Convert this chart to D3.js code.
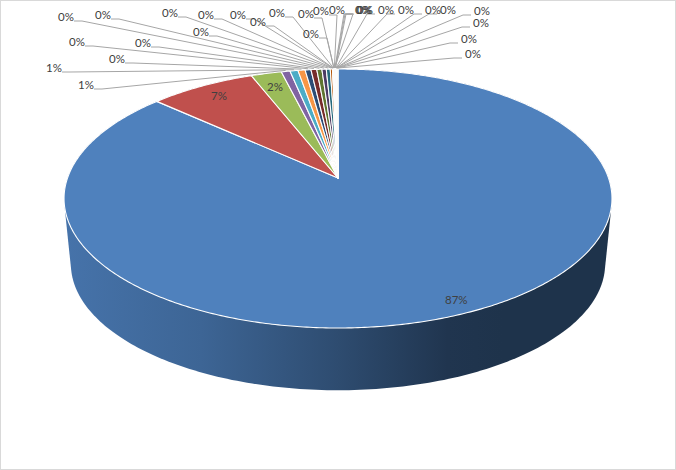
<!DOCTYPE html>
<html><head><meta charset="utf-8">
<script src="https://cdn.jsdelivr.net/npm/d3@7"></script>
<style>html,body{margin:0;padding:0;background:#fff}svg{display:block}</style>
</head><body><svg id="c" width="676" height="470"></svg>
<script>
// Data
const values = [86.75,7.3,2.1,0.6,0.55,0.49,0.4,0.4,0.35,0.3,0.27,0.15,
  0.02,0.02,0.02,0.02,0.02,0.02,0.02,0.02,0.02,0.02,0.02,0.02,0.02,0.02,0.02,0.02,0.02,0.02,0.02];
const labels = ["87%","7%","2%","1%","1%","0%","0%","0%","0%","0%","0%","0%",
  "0%","0%","0%","0%","0%","0%","0%","0%","0%","0%","0%","0%","0%","0%","0%","0%","0%","0%","0%"];
const colors = ["#4f81bd","#c0504d","#9bbb59","#8064a2","#4bacc6","#f79646","#2c4d75","#772c2a","#5f7530","#4d3b62","#276a7c","#b65708","#729aca","#d99694"];

// Layout of labels (left edge of text, text centre y). Leaders are computed.
const inside = [[445,300],[211,96],[267,87]];
const outside = [[78,85],[46,68],[109,59],[69,42],[135,43],[58,17],[95,15],[193,32],[162,13],[198,15],[230,15],[250,22],[269,13],[303,34],[298,14],[313,11],[329,10],
  [355,10],[356,10],[357,10],[378,10],[398,10],[425,10],[440,10],[474,11],[473,23],[461,39],[465,54]];

const W=676,H=470;
const svg=d3.select("#c");
svg.append("rect").attr("x",.5).attr("y",.5).attr("width",W-1).attr("height",H-1).attr("fill","#fff").attr("stroke","#d9d9d9");

// Perspective projection of a unit disc
const cx=338, cy=178, k=0.1583, A=270.5, B=126.25;
const proj=(a,s=1,dy=0)=>{ // a: clockwise from 12 o'clock
  const u=Math.sin(a), v=-Math.cos(a), w=1-k*v;
  return [cx+s*A*u/w, cy+dy+s*B*v/w];
};
const pie=d3.pie().value(d=>d).sort(null);
const arcs=pie(values);

// Side wall (convex hull of upper and lower rims)
const defs=svg.append("defs");
const grad=defs.append("linearGradient").attr("id","side").attr("gradientUnits","userSpaceOnUse").attr("x1",64).attr("x2",612).attr("y1",0).attr("y2",0);
[[0,"#4673aa"],[0.25,"#3d6595"],[0.5,"#2e4c70"],[0.7,"#20354f"],[0.8,"#1e334b"],[1,"#1e334b"]].forEach(s=>grad.append("stop").attr("offset",s[0]).attr("stop-color",s[1]));
const tau=2*Math.PI;
const rimTop=d3.range(0,360).map(d=>proj(d/360*tau));
const rimBot=d3.range(0,360).map(d=>proj(d/360*tau,0.975,66));
svg.append("path").attr("d","M"+d3.polygonHull(rimTop.concat(rimBot)).join("L")+"Z").attr("fill","url(#side)");

// Top face
const slicePath=d=>{
  const n=Math.max(2,Math.ceil((d.endAngle-d.startAngle)/0.01));
  const pts=d3.range(n+1).map(i=>proj(d.startAngle+(d.endAngle-d.startAngle)*i/n));
  return "M"+[cx,cy]+"L"+pts.join("L")+"Z";
};
svg.append("g").selectAll("path").data(arcs).join("path")
  .attr("d",slicePath)
  .attr("fill",(d,i)=>colors[i%colors.length])
  .attr("stroke","#fff").attr("stroke-width",1.1).attr("stroke-linejoin","round");

// Leaders
const font='Lato, "Open Sans", sans-serif';
const g=svg.append("g");
arcs.slice(3).forEach((d,i)=>{
  const [x,y]=outside[i];
  const right=x>345;
  const tip=proj((d.startAngle+d.endAngle)/2);
  const sy=y+4;
  const sx=right? x-3 : x+16;
  const ex=right? sx-8 : sx+8;
  g.append("path").attr("d",`M${sx},${sy}L${ex},${sy}L${tip[0]},${tip[1]-1}`)
   .attr("fill","none").attr("stroke","#a6a6a6").attr("stroke-width",1);
});
// Text
const txt=svg.append("g").attr("font-family",font).attr("font-size",11.5).attr("fill","#404040");
arcs.forEach((d,i)=>{
  const p=i<3?inside[i]:outside[i-3];
  txt.append("text").attr("x",p[0]).attr("y",p[1]+4).text(labels[i]);
});
</script></body></html>
